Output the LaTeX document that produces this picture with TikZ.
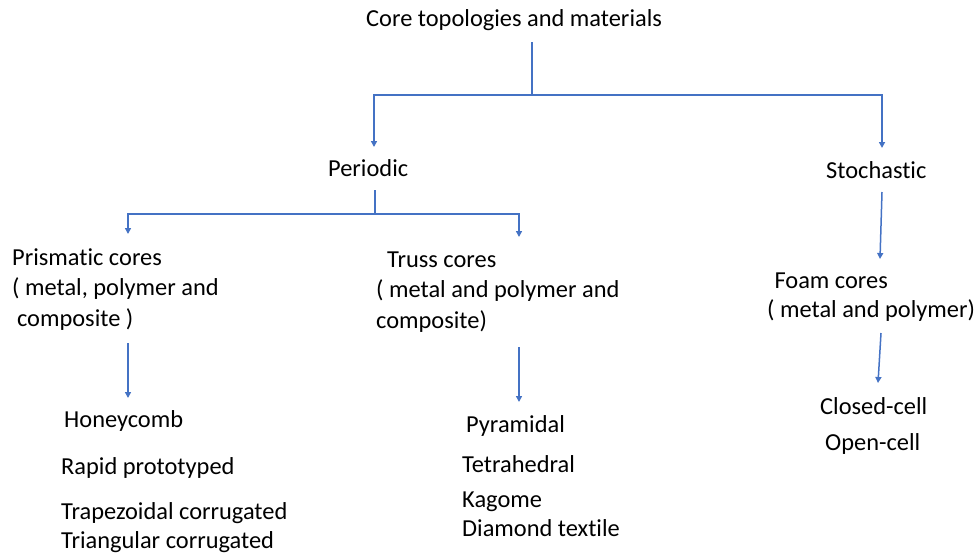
\documentclass[tikz,border=0pt]{standalone}
\usepackage{fontspec}
\setmainfont[Ligatures=NoCommon]{Carlito}
\usetikzlibrary{arrows.meta}
\definecolor{linkblue}{HTML}{4472C4}
\begin{document}
\begin{tikzpicture}[x=1pt,y=-1pt,>={Triangle[width=6pt,length=6pt]},
  txt/.style={inner sep=0pt,anchor=base west,align=left,font=\fontsize{24.4}{30.5}\selectfont},
  conn/.style={draw=linkblue,line width=1.5pt}]
\useasboundingbox (0,0) rectangle (979,554);
% labels (multi-line ones sit on their last baseline)
\node[txt] (root) at (366,27) {Core topologies and materials};
\node[txt] (periodic) at (328,176) {Periodic};
\node[txt] (stochastic) at (826,178) {Stochastic};
\node[txt] (prismatic) at (12,326) {Prismatic cores\\( metal, polymer and\\\hspace{0.2em}composite )};
\node[txt] (truss) at (376,328) {\hspace{0.45em}Truss cores\\( metal and polymer and\\composite)};
\node[txt,font=\fontsize{24.4}{29}\selectfont] (foam) at (767,317) {\hspace{0.3em}Foam cores\\( metal and polymer)};
\node[txt] (honeycomb) at (64,427) {Honeycomb};
\node[txt] (rapid) at (61,474) {Rapid prototyped};
\node[txt] (trapez) at (61,519) {Trapezoidal corrugated};
\node[txt] (triang) at (61,548) {Triangular corrugated};
\node[txt] (pyramidal) at (466,432) {Pyramidal};
\node[txt] (tetra) at (462,472) {Tetrahedral};
\node[txt] (kagome) at (462,507) {Kagome};
\node[txt] (diamond) at (462,536) {Diamond textile};
\node[txt] (closed) at (820,414) {Closed-cell};
\node[txt] (open) at (825,450) {Open-cell};
% connectors
\coordinate (rootstem) at (532,42);
\coordinate (rootj) at (532,95);
\coordinate (pertip) at (374,147);
\coordinate (stotip) at (882,148);
\coordinate (perstem) at (375,190);
\coordinate (perj) at (375,214);
\coordinate (pristip) at (128,234);
\coordinate (trusstip) at (519,237);
\coordinate (stostem) at (882,192);
\coordinate (foamtip) at (880,259);
\coordinate (prisstem) at (128,343);
\coordinate (honeytip) at (128,398);
\coordinate (trussstem) at (519,347);
\coordinate (pyrtip) at (519,402);
\coordinate (foamstem) at (881,333);
\coordinate (closedtip) at (878,383);
\draw[conn] (rootstem) -- (rootj);
\draw[conn,->] (rootj) -| (pertip);
\draw[conn,->] (rootj) -| (stotip);
\draw[conn] (perstem) -- (perj);
\draw[conn,->] (perj) -| (pristip);
\draw[conn,->] (perj) -| (trusstip);
\draw[conn,->] (stostem) -- (foamtip);
\draw[conn,->] (prisstem) -- (honeytip);
\draw[conn,->] (trussstem) -- (pyrtip);
\draw[conn,->] (foamstem) -- (closedtip);
\end{tikzpicture}
\end{document}
